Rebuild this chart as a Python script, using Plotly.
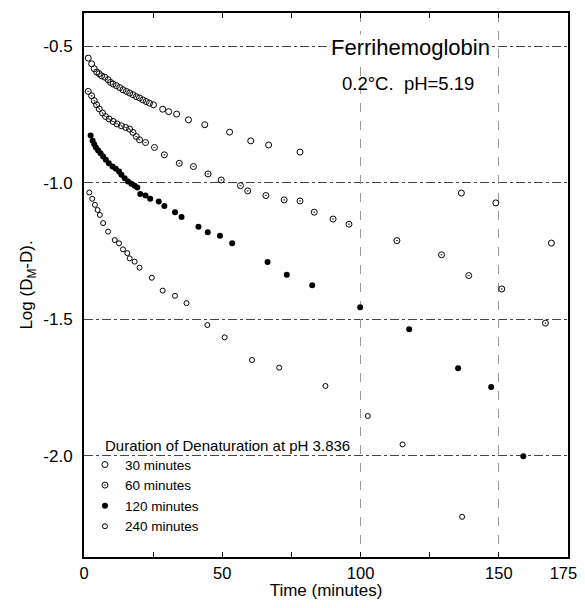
import plotly.graph_objects as go

# ---- data (time in minutes, Log(D_M - D)) ----
t30 = [1.54, 2.76, 3.70, 4.56, 5.49, 6.35, 7.53, 8.72, 9.58, 10.51, 11.73, 12.92, 14.10,
       15.32, 16.51, 17.69, 18.91, 20.09, 21.28, 22.50, 23.68, 25.12, 28.45, 30.61, 33.48,
       37.78, 43.67, 52.64, 60.28, 66.74, 78.11, 136.45, 148.9, 169.0]
v30 = [-0.544, -0.565, -0.583, -0.595, -0.601, -0.609, -0.614, -0.623, -0.633, -0.639,
       -0.645, -0.652, -0.660, -0.666, -0.672, -0.678, -0.685, -0.690, -0.697, -0.703,
       -0.709, -0.715, -0.731, -0.740, -0.749, -0.770, -0.788, -0.815, -0.847, -0.862,
       -0.888, -1.038, -1.074, -1.221]

t60 = [1.54, 2.76, 3.70, 4.56, 5.49, 6.71, 7.79, 9.08, 10.51, 11.95, 13.53, 15.07, 16.51,
       17.69, 18.91, 20.09, 22.25, 25.48, 29.06, 34.45, 39.58, 44.85, 49.62, 56.58, 59.20,
       65.77, 72.37, 78.11, 83.24, 90.06, 95.80, 113.13, 129.28, 139.11, 151.06, 166.85]
v60 = [-0.666, -0.682, -0.700, -0.715, -0.730, -0.745, -0.758, -0.767, -0.776, -0.785,
       -0.792, -0.798, -0.804, -0.816, -0.831, -0.843, -0.853, -0.871, -0.898, -0.929,
       -0.941, -0.968, -0.990, -1.011, -1.030, -1.047, -1.063, -1.067, -1.108, -1.133,
       -1.152, -1.212, -1.264, -1.340, -1.389, -1.514]

t120 = [2.40, 3.12, 3.70, 4.31, 5.13, 5.99, 6.92, 7.89, 8.97, 10.30, 11.48, 12.67, 13.53,
        14.71, 15.90, 17.11, 18.30, 19.27, 20.34, 22.25, 23.93, 27.02, 29.06, 32.90, 35.27,
        41.37, 44.74, 49.16, 53.57, 66.38, 73.31, 82.53, 99.86, 117.58, 135.27, 147.22, 158.84]
v120 = [-0.827, -0.847, -0.859, -0.871, -0.882, -0.892, -0.904, -0.916, -0.929, -0.941,
        -0.949, -0.959, -0.971, -0.984, -0.996, -1.004, -1.011, -1.018, -1.041, -1.047,
        -1.059, -1.069, -1.085, -1.108, -1.126, -1.161, -1.181, -1.194, -1.222, -1.290,
        -1.337, -1.375, -1.456, -1.536, -1.679, -1.748, -2.001]

t240 = [1.90, 2.98, 3.95, 4.92, 5.74, 6.93, 8.72, 11.12, 12.67, 14.10, 15.68, 16.51, 18.30,
        20.09, 24.51, 28.45, 32.90, 37.06, 44.60, 50.84, 60.74, 70.58, 87.30, 102.62,
        115.18, 136.71]
v240 = [-1.036, -1.059, -1.081, -1.100, -1.118, -1.148, -1.179, -1.210, -1.222, -1.244,
        -1.258, -1.277, -1.289, -1.311, -1.348, -1.395, -1.414, -1.441, -1.521, -1.566,
        -1.649, -1.677, -1.744, -1.854, -1.958, -2.223]

series_names = ["30 minutes", "60 minutes", "120 minutes", "240 minutes"]
x_tickvals = [0, 50, 100, 150, 175]
# trailing no-break spaces keep the last label inside the page edge
x_ticktext = ["0", "50", "100", "150", "175\u00a0\u00a0"]
y_tickvals = [-0.5, -1.0, -1.5, -2.0]
y_ticktext = ["-0.5", "-1.0", "-1.5", "-2.0"]

FONT = "Liberation Sans"

fig = go.Figure()
styles = [
    dict(symbol="circle-open", size=6, color="black", line=dict(width=1, color="black")),
    dict(symbol="circle-open-dot", size=6, color="black", line=dict(width=1, color="black")),
    dict(symbol="circle", size=6, color="black", line=dict(width=0)),
    dict(symbol="circle-open", size=5, color="black", line=dict(width=1, color="black")),
]
for name, xs, ys, st in zip(series_names, [t30, t60, t120, t240],
                            [v30, v60, v120, v240], styles):
    fig.add_trace(go.Scatter(x=xs, y=ys, mode="markers", name=name, marker=st))

# the page body adds an 8px margin all round, so the figure is 16px smaller
fig.update_layout(
    width=569, height=592,
    margin=dict(l=76, r=9, t=5, b=43, autoexpand=False),
    paper_bgcolor="white", plot_bgcolor="white",
    font=dict(family=FONT, color="black"),
    showlegend=True,
    legend=dict(
        font=dict(size=13.5), x=0.002, y=0.198, xanchor="left", yanchor="top",
        bgcolor="rgba(0,0,0,0)", itemwidth=30, tracegroupgap=0,
    ),
    xaxis=dict(
        range=[0, 175], tickvals=x_tickvals, ticktext=x_ticktext, automargin=False,
        ticklabeloverflow="allow",
        showline=True, linecolor="black", linewidth=2, mirror="ticks",
        ticks="inside", ticklen=5, tickcolor="black",
        showgrid=False, zeroline=False,
        tickfont=dict(size=16.5),
        title=dict(text="Time (minutes)", font=dict(size=17), standoff=2),
        minor=dict(ticks="inside", dtick=25, ticklen=5, tickcolor="black", showgrid=False),
    ),
    xaxis2=dict(
        range=[0, 175], overlaying="x", tickvals=[100, 150], showticklabels=False,
        showgrid=True, gridcolor="#999", griddash="dash", gridwidth=1, automargin=False,
        ticks="", showline=False, zeroline=False,
    ),
    yaxis=dict(
        range=[-2.370, -0.379], tickvals=y_tickvals, ticktext=y_ticktext, automargin=False,
        showline=True, linecolor="black", linewidth=2, mirror=True,
        ticks="", showgrid=True, gridcolor="#444", griddash="dashdot", gridwidth=1,
        zeroline=False, tickfont=dict(size=17), ticklabelstandoff=6,
        title=dict(text="Log (D<sub>M</sub>-D).", font=dict(size=17), standoff=6),
    ),
    annotations=[
        dict(text="Ferrihemoglobin", xref="paper", yref="paper", x=0.674, y=0.936,
             xanchor="center", yanchor="middle",
             showarrow=False, font=dict(size=22), bgcolor="white", borderpad=0),
        dict(text="0.2°C.  pH=5.19", xref="paper", yref="paper", x=0.670, y=0.871,
             xanchor="center", yanchor="middle",
             showarrow=False, font=dict(size=18.5)),
        dict(text="Duration of Denaturation at pH 3.836", xref="paper", yref="paper",
             x=0.039, y=0.2057, xanchor="left", yanchor="middle",
             showarrow=False, font=dict(size=15)),
    ],
)
# invisible helper trace so the overlay axis (vertical dashed guides) is rendered
fig.add_trace(go.Scatter(x=t30[:1], y=v30[:1], xaxis="x2", mode="markers",
                         marker=dict(opacity=0), showlegend=False, hoverinfo="skip"))

fig.write_html("out.html")
